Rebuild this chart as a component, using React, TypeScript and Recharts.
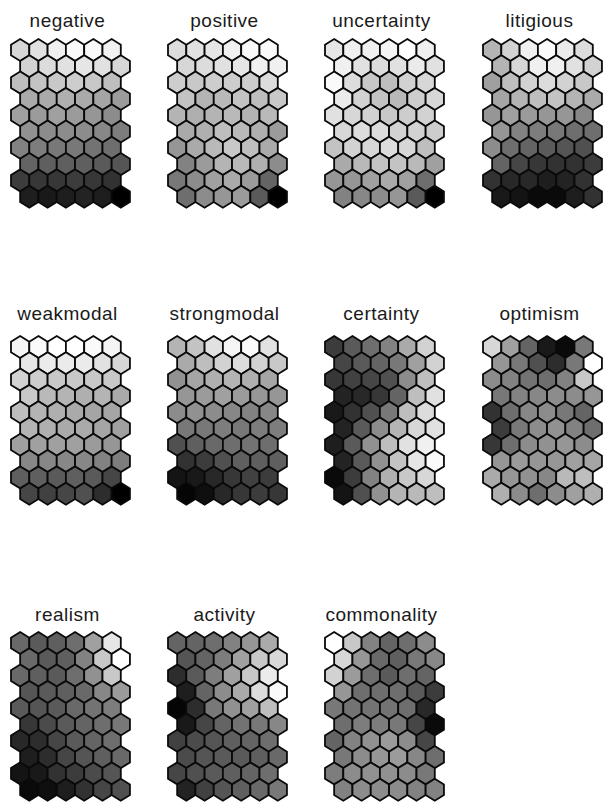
import React from "react";
import { ScatterChart, Scatter, XAxis, YAxis } from "recharts";

// Self-organising map component planes: 10 rows x 6 columns of hexagonal units,
// each value is the grey level (0 = black, 255 = white) of one unit.

const negative = [
  [215, 225, 240, 250, 250, 240],
  [210, 220, 225, 230, 225, 215],
  [190, 195, 200, 205, 200, 190],
  [170, 170, 175, 170, 165, 155],
  [160, 155, 160, 155, 150, 140],
  [145, 140, 140, 140, 135, 125],
  [130, 125, 120, 120, 115, 110],
  [100, 95, 95, 95, 90, 85],
  [60, 55, 55, 60, 55, 50],
  [30, 25, 30, 35, 30, 0],
];

const positive = [
  [220, 225, 230, 240, 250, 250],
  [215, 220, 225, 230, 240, 240],
  [205, 200, 205, 205, 205, 220],
  [195, 180, 185, 195, 190, 200],
  [180, 175, 180, 185, 180, 185],
  [170, 175, 190, 185, 175, 155],
  [150, 170, 185, 200, 190, 170],
  [130, 155, 180, 185, 175, 140],
  [120, 140, 160, 170, 155, 100],
  [110, 140, 150, 155, 90, 0],
];

const uncertainty = [
  [230, 240, 240, 245, 255, 240],
  [240, 225, 220, 225, 235, 225],
  [250, 220, 200, 190, 210, 215],
  [235, 210, 195, 185, 205, 215],
  [225, 215, 210, 200, 205, 210],
  [215, 220, 220, 210, 210, 205],
  [195, 210, 215, 220, 215, 190],
  [170, 185, 195, 195, 185, 160],
  [150, 150, 160, 170, 160, 110],
  [130, 135, 140, 150, 90, 0],
];

const litigious = [
  [180, 210, 240, 250, 235, 220],
  [180, 215, 240, 240, 225, 210],
  [160, 190, 210, 220, 210, 200],
  [165, 180, 190, 195, 180, 170],
  [150, 160, 155, 150, 150, 135],
  [150, 130, 125, 120, 110, 110],
  [140, 110, 100, 90, 85, 80],
  [100, 70, 55, 50, 50, 60],
  [50, 40, 40, 30, 35, 50],
  [25, 20, 10, 10, 30, 50],
];

const weakmodal = [
  [245, 250, 255, 255, 250, 245],
  [230, 235, 235, 235, 225, 215],
  [210, 205, 200, 200, 200, 200],
  [200, 185, 180, 175, 180, 170],
  [190, 180, 175, 170, 165, 165],
  [180, 175, 170, 170, 165, 160],
  [160, 160, 160, 160, 155, 150],
  [135, 135, 135, 135, 130, 125],
  [95, 95, 90, 95, 90, 70],
  [70, 65, 70, 80, 45, 0],
];

const strongmodal = [
  [180, 195, 225, 245, 250, 225],
  [170, 190, 210, 220, 210, 200],
  [145, 165, 175, 180, 175, 165],
  [150, 155, 160, 155, 150, 150],
  [140, 145, 140, 135, 130, 135],
  [120, 120, 125, 120, 125, 125],
  [80, 95, 105, 110, 115, 110],
  [50, 60, 80, 95, 95, 95],
  [20, 25, 40, 55, 65, 60],
  [5, 15, 40, 55, 60, 55],
];

const certainty = [
  [60, 90, 110, 130, 170, 210],
  [70, 90, 100, 120, 160, 210],
  [55, 65, 70, 80, 140, 190],
  [35, 40, 55, 100, 190, 225],
  [25, 50, 80, 120, 190, 220],
  [35, 90, 140, 180, 215, 225],
  [30, 90, 145, 190, 225, 240],
  [35, 90, 145, 195, 230, 250],
  [10, 60, 130, 175, 200, 215],
  [20, 80, 145, 180, 185, 190],
];

const optimism = [
  [215, 160, 100, 25, 10, 120],
  [150, 120, 80, 45, 120, 255],
  [140, 130, 115, 110, 130, 200],
  [120, 130, 135, 140, 140, 150],
  [50, 110, 135, 140, 120, 100],
  [60, 120, 140, 145, 130, 110],
  [55, 110, 140, 145, 150, 140],
  [150, 155, 150, 150, 160, 165],
  [170, 150, 145, 135, 185, 190],
  [175, 140, 110, 140, 160, 175],
];

const realism = [
  [105, 90, 95, 110, 160, 230],
  [105, 90, 95, 130, 200, 255],
  [105, 95, 90, 110, 145, 200],
  [85, 90, 95, 105, 135, 155],
  [90, 85, 90, 105, 115, 125],
  [55, 75, 90, 100, 110, 120],
  [40, 45, 70, 90, 100, 110],
  [30, 45, 70, 85, 95, 105],
  [20, 25, 50, 60, 75, 85],
  [10, 15, 30, 50, 70, 80],
];

const activity = [
  [100, 100, 110, 130, 150, 170],
  [85, 100, 125, 160, 200, 215],
  [45, 90, 125, 160, 200, 235],
  [30, 100, 140, 170, 220, 250],
  [5, 45, 120, 145, 160, 190],
  [25, 70, 100, 115, 120, 135],
  [65, 75, 85, 95, 100, 110],
  [75, 85, 90, 90, 95, 105],
  [70, 80, 90, 95, 100, 110],
  [35, 65, 85, 95, 105, 120],
];

const commonality = [
  [255, 200, 130, 100, 110, 140],
  [215, 150, 105, 95, 120, 135],
  [210, 155, 110, 90, 110, 100],
  [150, 110, 110, 110, 90, 60],
  [120, 115, 115, 115, 110, 40],
  [110, 125, 125, 120, 70, 10],
  [100, 130, 145, 155, 140, 70],
  [120, 140, 150, 155, 135, 110],
  [125, 140, 145, 145, 140, 120],
  [130, 140, 140, 140, 130, 130],
];

const planeNames = [
  "negative", "positive", "uncertainty", "litigious",
  "weakmodal", "strongmodal", "certainty", "optimism",
  "realism", "activity", "commonality",
];
const planeValues = [
  negative, positive, uncertainty, litigious,
  weakmodal, strongmodal, certainty, optimism,
  realism, activity, commonality,
];

// hexagon geometry (pointy-top, odd rows shifted right by half a cell)
const HEX_W = 18.3;
const HEX_H = 22;
const ROW_STEP = 16.3;
const COLS = 6;
const ROWS = 10;
const PAD = 3;
const PLOT_W = HEX_W * (COLS + 0.5);
const PLOT_H = ROW_STEP * (ROWS - 1) + HEX_H;
const Y_EXT = HEX_H / 2 / ROW_STEP;

const GRID_LEFT = [11, 168, 325, 483];
const GRID_TOP = [39, 336, 632];
const TITLE_BASE = [27, 320, 621];

function toPoints(grid: number[][]) {
  const pts: { x: number; y: number; v: number }[] = [];
  grid.forEach((row, r) => {
    row.forEach((v, c) => {
      pts.push({ x: c + 0.5 + (r % 2 ? 0.5 : 0), y: r, v });
    });
  });
  return pts;
}

function Hex(props: any) {
  const { cx, cy, payload } = props;
  const hw = HEX_W / 2;
  const hh = HEX_H / 2;
  const sh = ROW_STEP - hh;
  const pts = [
    [cx, cy - hh],
    [cx + hw, cy - sh],
    [cx + hw, cy + sh],
    [cx, cy + hh],
    [cx - hw, cy + sh],
    [cx - hw, cy - sh],
  ]
    .map((p) => p.join(","))
    .join(" ");
  const g = payload.v;
  return (
    <polygon
      points={pts}
      fill={`rgb(${g},${g},${g})`}
      stroke="#0a0a0a"
      strokeWidth={1.8}
      strokeLinejoin="miter"
    />
  );
}

function Plane({ name, grid, index }: { name: string; grid: number[][]; index: number }) {
  const col = index % 4;
  const row = Math.floor(index / 4);
  const left = GRID_LEFT[col];
  const top = GRID_TOP[row];
  const data = toPoints(grid);
  return (
    <>
      <div
        style={{
          position: "absolute",
          left: left + PLOT_W / 2 - 3 - 80,
          width: 160,
          top: TITLE_BASE[row] - 16.5,
          height: 20,
          lineHeight: "20px",
          textAlign: "center",
          fontFamily: "'Liberation Sans', Arial, sans-serif",
          fontSize: 19,
          letterSpacing: 0.5,
          color: "#1a1a1a",
          whiteSpace: "nowrap",
        }}
      >
        {name}
      </div>
      <div style={{ position: "absolute", left: left - PAD, top: top - PAD }}>
        <ScatterChart
          width={PLOT_W + 2 * PAD}
          height={PLOT_H + 2 * PAD}
          margin={{ top: PAD, right: PAD, bottom: PAD, left: PAD }}
        >
          <XAxis type="number" dataKey="x" domain={[0, COLS + 0.5]} hide />
          <YAxis type="number" dataKey="y" domain={[-Y_EXT, ROWS - 1 + Y_EXT]} reversed hide />
          <Scatter data={data} shape={Hex} isAnimationActive={false} />
        </ScatterChart>
      </div>
    </>
  );
}

export default function App() {
  return (
    <div
      style={{
        position: "absolute",
        left: 0,
        top: 0,
        width: 604,
        height: 807,
        background: "#ffffff",
      }}
    >
      {planeNames.map((n, i) => (
        <Plane key={n} name={n} grid={planeValues[i]} index={i} />
      ))}
    </div>
  );
}
